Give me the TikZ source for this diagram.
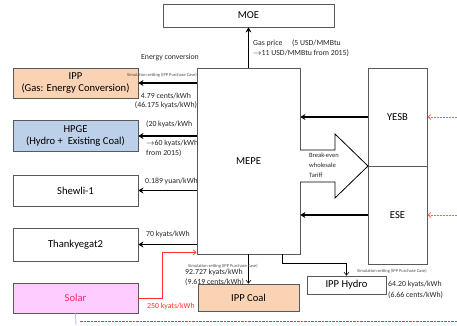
\documentclass[tikz,border=0pt]{standalone}
\usepackage{fontspec}
\setmainfont{Carlito}
\usepackage{xcolor}
\usepackage{tikz}
\usetikzlibrary{arrows.meta, positioning, calc}
\definecolor{boxgray}{HTML}{595959}
\definecolor{gasorange}{HTML}{FAD3B5}
\definecolor{hydroblue}{HTML}{BDD0E9}
\definecolor{solarpink}{HTML}{FFCCFF}
\definecolor{solarred}{HTML}{FF2A55}
\definecolor{feedred}{HTML}{FF3030}
\definecolor{paleblue}{HTML}{9DC3E6}

\begin{document}
\begin{tikzpicture}[
    x=1pt, y=-1pt,
    box/.style={draw=boxgray, line width=0.8pt, rectangle, inner sep=1pt,
                align=center, font=\fontsize{10.6}{12.5}\selectfont},
    plant/.style={box, minimum width=125pt, minimum height=31pt},
    gas plant/.style={plant, fill=gasorange},
    hydro plant/.style={plant, fill=hydroblue},
    solar plant/.style={plant, fill=solarpink, text=solarred},
    agency/.style={box, minimum width=59pt, minimum height=98pt},
    label/.style={font=\fontsize{7.8}{9.5}\selectfont, inner sep=0pt, text=black!85},
    tinylabel/.style={font=\fontsize{4.5}{5}\selectfont, inner sep=0pt, text=black!70},
    arrow/.style={-{Stealth[length=5pt, width=6pt]}, line width=1.3pt},
    thin arrow/.style={-{Straight Barb[length=3pt, width=5pt]}, line width=0.6pt},
    red arrow/.style={-{Straight Barb[length=3pt, width=5pt]}, line width=0.6pt, feedred},
    feed arrow/.style={-{Straight Barb[length=3pt, width=5pt]}, line width=0.7pt,
                       feedred!80, dash pattern=on 2pt off 1pt},
  ]
    \useasboundingbox (0,0) rectangle (457,325);

    % Ministry and utility
    \node[box, minimum width=171pt, minimum height=23pt] (MOE) at (248.5,15.5) {MOE};
    \node[box, minimum width=103pt, minimum height=186pt] (MEPE) at (248.5,161) {MEPE};

    % Power producers on the left
    \node[gas plant, minimum height=30pt] (IPP) at (75.5,83) {IPP\\(Gas: Energy Conversion)};
    \node[hydro plant] (HPGE) at (75.5,136) {HPGE\\(Hydro +\ \ Existing Coal)};
    \node[plant] (Shewli) at (75.5,190.5) {Shewli-1};
    \node[plant, minimum height=33pt] (Thankyegat) at (75.5,244.5) {Thankyegat2};
    \node[solar plant, minimum height=30pt] (Solar) at (75.5,298) {Solar};

    % Producers below MEPE
    \node[box, fill=gasorange, minimum width=101pt, minimum height=27pt] (IPPCoal)
      at (248.5,297.5) {IPP Coal};
    \node[box, minimum width=79pt, minimum height=18pt] (IPPHydro)
      at (346.5,285) {IPP Hydro};

    % Supply boards
    \node[agency] (YESB) at (397.5,117) {YESB};
    \node[agency] (ESE) at (397.5,215) {ESE};

    % Gas price to MOE
    \draw[arrow] (MEPE.north) -- (MOE.south);
    \node[label, anchor=north west, align=left] at (253,40)
      {Gas price\quad\ (5 USD/MMBtu\\$\rightarrow$11 USD/MMBtu from 2015)};
    \node[label] at (170,57) {Energy conversion};

    % Purchases from the producers
    \draw[arrow] (MEPE.west |- IPP) -- (IPP.east);
    \draw[arrow] (MEPE.west |- HPGE) -- (HPGE.east);
    \draw[arrow] (MEPE.west |- Shewli) -- (Shewli.east);
    \draw[arrow] (MEPE.west |- Thankyegat) -- (Thankyegat.east);
    \draw[red arrow] (Solar.east) -- ++(24,0) |- ([yshift=2pt]MEPE.south west);

    \node[tinylabel] at (162,75) {Simulation setting (IPP Purchase Case)};
    \node[label, align=center] at (166,101) {4.79 cents/kWh\\(46.175 kyats/kWh)};
    \node[label, anchor=west] at (146,124) {(20 kyats/kWh};
    \node[label, anchor=north west, align=left] at (146,140)
      {$\rightarrow$60 kyats/kWh\\from 2015)};
    \node[label, anchor=west] at (145,181) {0.189 yuan/kWh};
    \node[label, anchor=west] at (146,234) {70 kyats/kWh};
    \node[label, anchor=west, text=feedred] at (147,306) {250 kyats/kWh};

    % Sales from the boards, tariff back to them
    \draw[arrow] (YESB.west) -- (MEPE.east |- YESB);
    \draw[arrow] (ESE.west) -- (MEPE.east |- ESE);
    \draw[line width=0.8pt, fill=white] (300,150) -- (335,150) -- (335,134)
      -- (368,166) -- (335,198) -- (335,182) -- (300,182);
    \node[anchor=north west, align=left, inner sep=0pt,
          font=\fontsize{6.5}{10}\selectfont, text=black!85] at (309,153)
      {Break-even\\wholesale\\Tariff};
    \draw[feed arrow] ([xshift=30pt]YESB.east) -- (YESB.east);
    \draw[feed arrow] ([xshift=30pt]ESE.east) -- (ESE.east);

    % IPP coal and hydro
    \draw[thin arrow] (MEPE.south) -- (IPPCoal.north);
    \draw[thin arrow] ([xshift=-18pt]MEPE.south east) -- ++(0,9) -| (IPPHydro.north);
    \node[tinylabel, anchor=west] at (188,266) {Simulation setting (IPP Purchase Case)};
    \node[label, anchor=west] at (185,272) {92.727 kyats/kWh};
    \node[label, anchor=west] at (185,282) {(9.619 cents/kWh)};
    \node[tinylabel, anchor=west] at (357,271) {Simulation setting (IPP Purchase Case)};
    \node[label, anchor=west] at (388,284) {64.20 kyats/kWh};
    \node[label, anchor=west] at (388,295) {(6.66 cents/kWh)};

    % Solar feed line along the bottom
    \coordinate (solar drop) at (76,325);
    \coordinate (line start) at (80,321.5);
    \coordinate (line end) at (457,321.5);
    \draw[paleblue, line width=0.8pt] (Solar.south) -- (solar drop);
    \draw[feedred, line width=1pt, dash pattern=on 2.5pt off 1pt] (line start) -- (line end);
  \end{tikzpicture}
\end{document}
